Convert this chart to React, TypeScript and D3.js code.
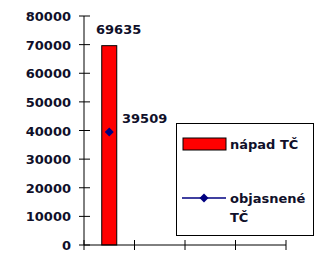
import React from "react";
import * as d3 from "d3";

const categories = ["A", "B", "C", "D"];
const barValues = [69635, null, null, null];
const lineValues = [39509, null, null, null];
const yTicks = [0, 10000, 20000, 30000, 40000, 50000, 60000, 70000, 80000];
const seriesNames = ["nápad TČ", "objasnené", "TČ"];

export default function App() {
  const W = 318, H = 253;
  const x = d3.scaleBand<string>().domain(categories).range([84, 286]);
  const y = d3.scaleLinear().domain([0, 80000]).range([245, 16]);
  const font = "'DejaVu Sans', sans-serif";
  const bw = 15;
  const diamond = d3.symbol().type(d3.symbolSquare).size(40)();
  const edges = [...categories.map((c) => x(c)!), x.range()[1]];
  return (
    <svg width={W} height={H} style={{ position: "absolute", left: 0, top: 0 }} fontFamily={font} fontWeight="bold">
      <rect width={W} height={H} fill="#fff" />
      {categories.map((c, i) =>
        barValues[i] != null ? (
          <rect key={c} x={x(c)! + x.bandwidth() / 2 - bw / 2} y={y(barValues[i]!)} width={bw}
            height={y(0) - y(barValues[i]!)} fill="#ff0000" stroke="#000" strokeWidth={1} />
        ) : null
      )}
      <line x1={84} x2={84} y1={y(80000)} y2={y(0)} stroke="#000" />
      <line x1={84} x2={286} y1={y(0)} y2={y(0)} stroke="#000" />
      {yTicks.map((t) => (
        <g key={t}>
          <line x1={79} x2={90} y1={y(t)} y2={y(t)} stroke="#000" />
          <text x={71} y={y(t) + 5} textAnchor="end" fontSize={13} fill="#10102a">{t}</text>
        </g>
      ))}
      {edges.map((e, i) => (
        <line key={i} x1={e} x2={e} y1={240} y2={250} stroke="#000" />
      ))}
      {categories.map((c, i) =>
        lineValues[i] != null ? (
          <g key={c}>
            <path d={diamond!} transform={`translate(${x(c)! + x.bandwidth() / 2},${y(lineValues[i]!)}) rotate(45)`} fill="#000080" />
            <text x={122} y={y(lineValues[i]!) - 9} fontSize={13} fill="#10102a">{lineValues[i]}</text>
          </g>
        ) : null
      )}
      {categories.map((c, i) =>
        barValues[i] != null ? (
          <text key={c} x={96} y={y(barValues[i]!) - 12} fontSize={13} fill="#10102a">{barValues[i]}</text>
        ) : null
      )}
      <rect x={176.5} y={123.5} width={137} height={112} fill="#fff" stroke="#000" />
      <rect x={183} y={138} width={43} height={12} fill="#ff0000" stroke="#000" />
      <text x={230} y={149} fontSize={13} fill="#10102a">{seriesNames[0]}</text>
      <line x1={182} x2={226} y1={198} y2={198} stroke="#000080" strokeWidth={1.3} />
      <path d={diamond!} transform="translate(204,198) rotate(45)" fill="#000080" />
      <text x={230} y={203} fontSize={13} fill="#10102a">{seriesNames[1]}</text>
      <text x={230} y={222} fontSize={13} fill="#10102a">{seriesNames[2]}</text>
    </svg>
  );
}
